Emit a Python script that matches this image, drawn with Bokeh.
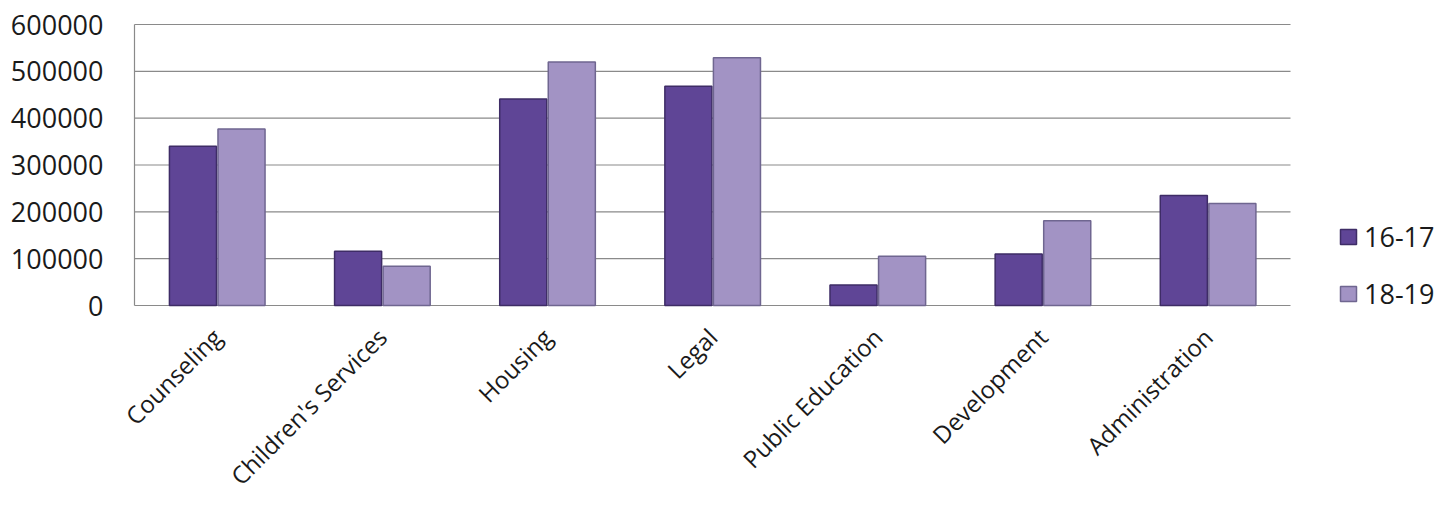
import math
from bokeh.plotting import figure
from bokeh.models import Legend, LegendItem, ColumnDataSource, Range1d
from bokeh.core.properties import value
from bokeh.embed import file_html
from bokeh.resources import INLINE

categories = ["Counseling", "Children's Services", "Housing", "Legal",
              "Public Education", "Development", "Administration"]
series_names = ["16-17", "18-19"]
values_1617 = [340000, 116000, 441000, 468000, 44000, 110000, 235000]
values_1819 = [377000, 84000, 520000, 529000, 105000, 181000, 218000]
y_ticks = [0, 100000, 200000, 300000, 400000, 500000, 600000]
y_tick_labels = [str(t) for t in y_ticks]
y_max = 600000

n = len(categories)
idx = list(range(n))

# layout (pixels): the value area spans x 134..1290, y 24 (600000) .. 305 (0)
W, H = 1439, 494
area_left, area_right, area_top, area_bottom = 134, 1290, 24, 305
cat_px = (area_right - area_left) / n
px_per_unit = (area_bottom - area_top) / y_max

x0_data = -0.5 - area_left / cat_px
x1_data = -0.5 + (W - area_left) / cat_px
y1_data = y_max + area_top / px_per_unit
y0_data = -(H - area_bottom) / px_per_unit

label_y = -27 / px_per_unit          # category labels below the baseline
ylab_x = -0.5 - 31 / cat_px          # value labels left of the axis

src = ColumnDataSource(dict(i=idx, cat=categories, a=values_1617, b=values_1819,
                            xa=[i - 0.146 for i in idx], xb=[i + 0.148 for i in idx],
                            ly=[label_y] * n))
ysrc = ColumnDataSource(dict(y=y_ticks, t=y_tick_labels, x=[ylab_x] * len(y_ticks),
                             gx0=[-0.5] * len(y_ticks), gx1=[n - 0.5] * len(y_ticks)))

p = figure(width=W, height=H, output_backend="svg", toolbar_location=None,
           min_border_left=0, min_border_right=0,
           min_border_top=0, min_border_bottom=0)
p.x_range = Range1d(x0_data, x1_data)
p.y_range = Range1d(y0_data, y1_data)
p.outline_line_color = None
p.background_fill_color = "white"
p.border_fill_color = "white"
p.axis.visible = False
p.grid.visible = False

# horizontal gridlines (incl. baseline) limited to the category area
p.segment(x0="gx0", x1="gx1", y0="y", y1="y", source=ysrc,
          line_color="#8a8a8a", line_width=1.2)
# vertical value axis line
p.segment(x0=[-0.5], x1=[-0.5], y0=[y_ticks[0]], y1=[y_ticks[-1]],
          line_color="#8a8a8a", line_width=1.2)

r1 = p.vbar(x="xa", top="a", width=0.285, source=src,
            fill_color="#5f4596", line_color="#3e2c66", line_width=1.5)
r2 = p.vbar(x="xb", top="b", width=0.285, source=src,
            fill_color="#a293c4", line_color="#6f6690", line_width=1.5)

# value labels
p.text(x="x", y="y", text="t", source=ysrc, text_align="right", text_baseline="middle",
       text_font=value("Open Sans"), text_font_size="27px", text_color="#1a1a1a")

# category labels
p.text(x="i", y="ly", text="cat", source=src, angle=math.pi / 4,
       text_align="right", text_baseline="middle",
       text_font=value("Open Sans"), text_font_size="24px", text_color="#1a1a1a")

legend = Legend(items=[LegendItem(label=series_names[0], renderers=[r1]),
                       LegendItem(label=series_names[1], renderers=[r2])],
                location=(1338, 182))
legend.label_text_font = "Open Sans"
legend.label_text_font_size = "27px"
legend.label_text_color = "#1a1a1a"
legend.glyph_width = 20
legend.glyph_height = 19
legend.spacing = 20
legend.padding = 0
legend.margin = 0
legend.label_standoff = 6
legend.border_line_color = None
legend.background_fill_alpha = 0
p.add_layout(legend, "center")

open("out.html", "w").write(file_html(p, INLINE))
